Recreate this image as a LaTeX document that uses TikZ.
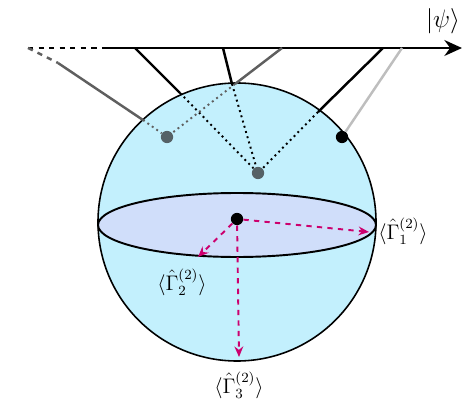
\documentclass[tikz,border=0pt]{standalone}
\usepackage{amsmath}
\usetikzlibrary{arrows.meta}
\definecolor{spherecyan}{RGB}{195,240,253}
\definecolor{disclilac}{RGB}{208,222,250}
\definecolor{arrowpink}{RGB}{204,0,110}
\definecolor{dotgray}{RGB}{85,97,102}
\definecolor{legdark}{RGB}{95,95,95}
\definecolor{leglight}{RGB}{190,190,190}
\tikzset{
  leg/.style={line width=1.4pt},
  proj/.style={dotted, line width=1.1pt},
  expect/.style={arrowpink, dashed, line width=1.1pt, -{Stealth[length=6pt,width=5pt]}},
  blob/.style={circle, inner sep=0pt, minimum size=7pt},
  gamlab/.style={inner sep=1pt, font=\fontsize{12}{14}\selectfont},
}
\begin{document}
\begin{tikzpicture}[x=0.02cm, y=-0.02cm]
	\useasboundingbox (0,0) rectangle (476,405);
	% sphere and equatorial disc
	\draw[fill=spherecyan, line width=0.9pt] (237,222) circle (139);
	\draw[fill=disclilac, line width=1.1pt] (237,225) ellipse [x radius=139, y radius=32];
	% time axis
	\coordinate (t0) at (28,48);
	\coordinate (t1) at (107,48);
	\coordinate (t2) at (462,48);
	\draw[dashed, line width=1.6pt] (t0) -- (t1);
	\draw[line width=1.6pt, -{Stealth[length=10pt,width=9pt]}] (t1) -- (t2);
	\node[font=\fontsize{14}{16}\selectfont] (psi) at (443,21) {$|\psi\rangle$};
	% points on the axis
	\coordinate (a1) at (135,48);
	\coordinate (a2) at (223,48);
	\coordinate (a3) at (282,48);
	\coordinate (a4) at (383,48);
	\coordinate (a5) at (402,48);
	% where the legs meet the sphere
	\coordinate (s1) at (180,93);
	\coordinate (s2) at (232,84);
	\coordinate (s3) at (235,84);
	\coordinate (s4) at (318,112);
	\coordinate (s5) at (143,120);
	\coordinate (g1) at (58,63);
	% states
	\node[blob, fill=dotgray] (mixed) at (258,173) {};
	\node[blob, fill=dotgray] (past) at (167,137) {};
	\node[blob, fill=black] (pure) at (342,137) {};
	\node[blob, fill=black] (origin) at (237,219) {};
	% legs
	\draw[leg] (a1) -- (s1);
	\draw[leg] (a2) -- (s2);
	\draw[leg] (a4) -- (s4);
	\draw[leg, legdark] (a3) -- (s3);
	\draw[leg, legdark, dashed] (t0) -- (g1);
	\draw[leg, legdark] (g1) -- (s5);
	\draw[leg, leglight] (a5) -- (pure);
	\draw[proj] (s1) -- (mixed);
	\draw[proj] (s2) -- (mixed);
	\draw[proj] (s4) -- (mixed);
	\draw[proj, legdark] (s3) -- (past);
	\draw[proj, legdark] (s5) -- (past);
	% expectation values
	\coordinate (e1) at (369,232);
	\coordinate (e2) at (198,257);
	\coordinate (e3) at (239,357);
	\draw[expect] (origin) -- (e1);
	\draw[expect] (origin) -- (e2);
	\draw[expect] (origin) -- (e3);
	\node[gamlab] (g1lab) at (403,231) {$\langle\hat{\Gamma}^{(2)}_1\rangle$};
	\node[gamlab] (g2lab) at (182,282) {$\langle\hat{\Gamma}^{(2)}_2\rangle$};
	\node[gamlab] (g3lab) at (239,385) {$\langle\hat{\Gamma}^{(2)}_3\rangle$};
\end{tikzpicture}
\end{document}
